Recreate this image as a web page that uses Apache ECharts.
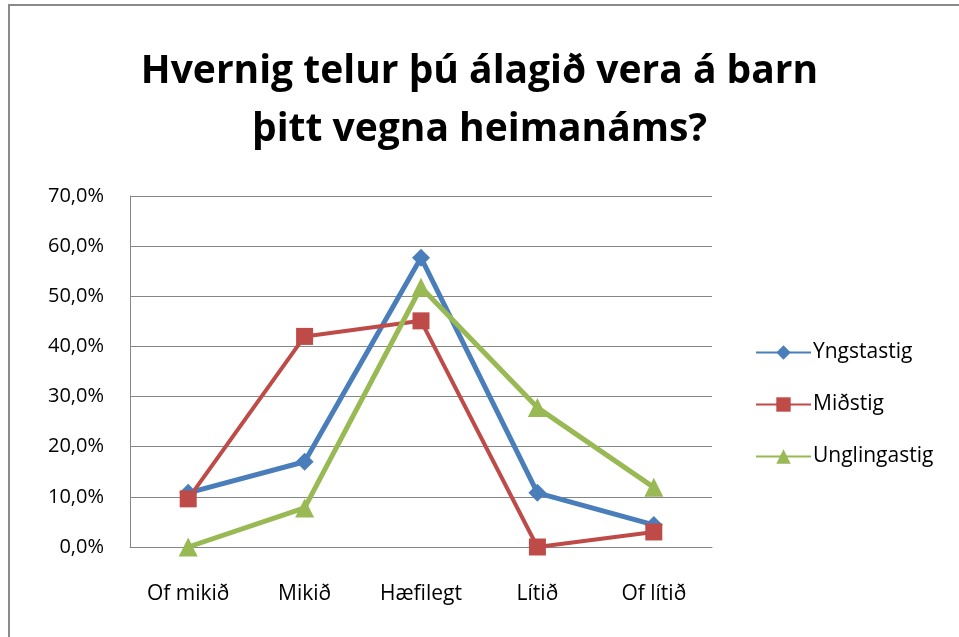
<!DOCTYPE html>
<html>
<head>
<meta charset="utf-8">
<script src="https://cdn.jsdelivr.net/npm/echarts@6/dist/echarts.min.js"></script>
<style>
    html, body { margin: 0; padding: 0; background: #fff; }
    #main { width: 959px; height: 637px; }
</style>
</head>
<body>
<div id="main"></div>
<script>
    var categories = ['Of mikið', 'Mikið', 'Hæfilegt', 'Lítið', 'Of lítið'];
    var yngstastig = [10.8, 17.0, 57.7, 10.8, 4.4];
    var midstig = [9.6, 42.0, 45.1, 0.0, 3.0];
    var unglingastig = [0.0, 7.8, 51.8, 27.8, 11.9];

    var font = '"Open Sans", Lato, sans-serif';
    var myChart = echarts.init(document.getElementById('main'));
    var option = {
        backgroundColor: '#fff',
        animation: false,
        title: {
            text: 'Hvernig telur þú álagið vera á barn\nþitt vegna heimanáms?',
            left: 'center',
            top: 38,
            textStyle: {
                fontFamily: font,
                fontSize: 39,
                fontWeight: 'bold',
                color: '#000',
                lineHeight: 58
            }
        },
        graphic: [{
            type: 'rect',
            shape: { x: 9, y: 5, width: 980, height: 680 },
            style: { fill: 'none', stroke: '#8a8a8a', lineWidth: 2 },
            silent: true
        }],
        legend: {
            orient: 'vertical',
            left: 750,
            top: 337,
            itemWidth: 55,
            itemHeight: 18,
            itemGap: 31,
            textStyle: { fontFamily: font, fontSize: 21, color: '#000', padding: [0, 0, 0, -3] },
            data: ['Yngstastig', 'Miðstig', 'Unglingastig']
        },
        grid: { left: 130, right: 247, top: 196, bottom: 90 },
        xAxis: {
            type: 'category',
            data: categories,
            boundaryGap: true,
            axisLine: { lineStyle: { color: '#868686' } },
            axisTick: { show: false },
            axisLabel: { fontFamily: font, fontSize: 21, color: '#000', margin: 37 }
        },
        yAxis: {
            type: 'value',
            min: 0,
            max: 70,
            interval: 10,
            axisLine: { show: true, lineStyle: { color: '#868686' } },
            axisTick: { show: false },
            splitLine: { lineStyle: { color: '#868686', width: 1 } },
            axisLabel: {
                fontFamily: font, fontSize: 20, color: '#000', margin: 26,
                formatter: function (v) { return v.toFixed(1).replace('.', ',') + '%'; }
            }
        },
        series: [
            {
                name: 'Yngstastig', type: 'line', data: yngstastig,
                symbol: 'diamond', symbolSize: 18,
                itemStyle: { color: '#4A7EBB' },
                lineStyle: { color: '#4A7EBB', width: 5 }
            },
            {
                name: 'Miðstig', type: 'line', data: midstig,
                symbol: 'rect', symbolSize: 17,
                itemStyle: { color: '#BE4B48' },
                lineStyle: { color: '#BE4B48', width: 4 }
            },
            {
                name: 'Unglingastig', type: 'line', data: unglingastig,
                symbol: 'triangle', symbolSize: 19,
                itemStyle: { color: '#98B954' },
                lineStyle: { color: '#98B954', width: 5 }
            }
        ]
    };
    myChart.setOption(option);
</script>
</body>
</html>
